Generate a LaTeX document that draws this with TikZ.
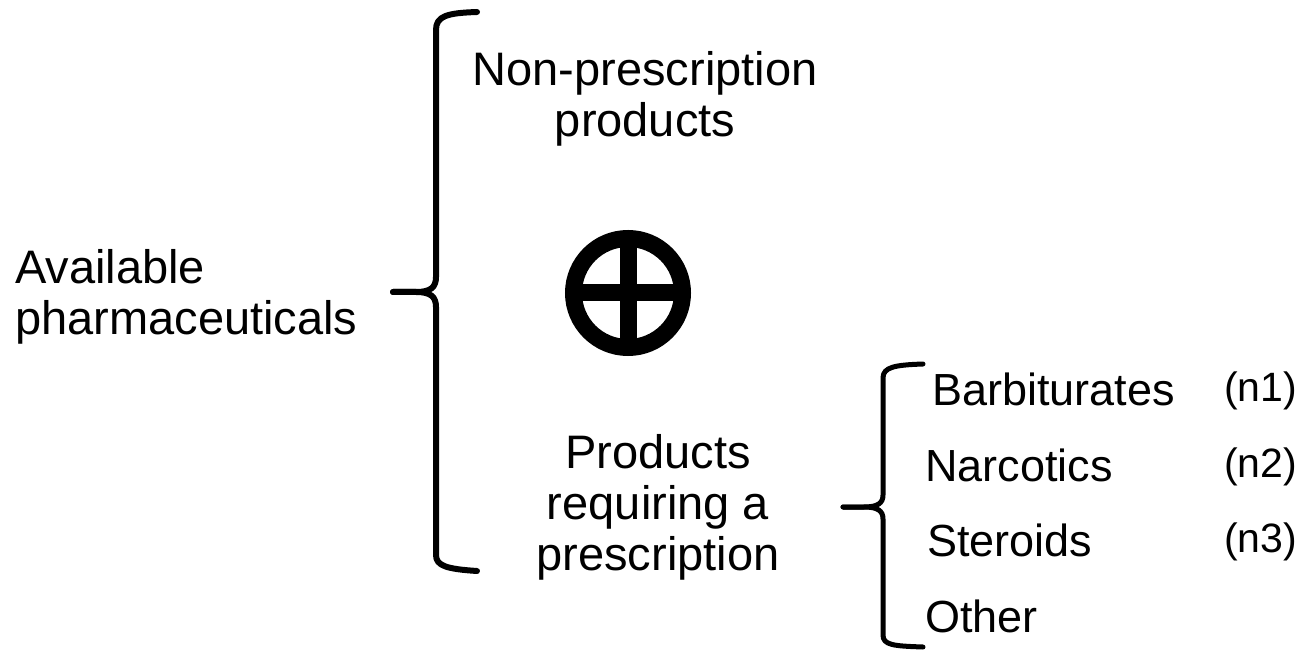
\documentclass[tikz,border=0pt]{standalone}
\usepackage{fontspec}
\setmainfont{Liberation Sans}
\begin{document}
\begin{tikzpicture}[x=1pt,y=-1pt,
  label/.style={inner sep=0pt, align=center, font=\fontsize{47}{51}\selectfont},
  item/.style={inner sep=0pt, anchor=base west, font=\fontsize{45}{48}\selectfont},
  tag/.style={inner sep=0pt, anchor=base west, font=\fontsize{41}{44}\selectfont},
  brace/.style={line width=6pt, line cap=round, line join=round},
  smallbrace/.style={line width=5pt, line cap=round, line join=round},
  symbolline/.style={line width=17pt}]
\useasboundingbox (0,0) rectangle (1299,652);

% main labels
\node[label, align=left, anchor=north west] (avail) at (15,249) {Available\\pharmaceuticals};
\node[label, anchor=north] (nonpres) at (645,51) {Non-prescription\\products};
\node[label, anchor=north] (presc) at (658,434) {Products\\requiring a\\prescription};

% large brace
\coordinate (bigtip) at (393,292);
\draw[brace] (477,12) .. controls (447,13) and (436,16) .. (436,30)
  -- (436,277) .. controls (436,287) and (431,292) .. (416,292) -- (bigtip);
\draw[brace] (bigtip) -- (416,292) .. controls (431,292) and (436,297) .. (436,307)
  -- (436,555) .. controls (436,566) and (447,569) .. (477,571);

% circled plus
\coordinate (plus) at (628,293);
\draw[symbolline] (plus) circle[radius=54.5];
\draw[symbolline] (plus) ++(0,-55) -- ++(0,110);
\draw[symbolline] (plus) ++(-55,0) -- ++(110,0);

% small brace
\coordinate (smalltip) at (843,507);
\draw[smallbrace] (923,364) .. controls (895,365) and (883,367) .. (883,378)
  -- (883,495) .. controls (883,503) and (878,507) .. (864,507) -- (smalltip);
\draw[smallbrace] (smalltip) -- (864,507) .. controls (878,507) and (883,511) .. (883,519)
  -- (883,635) .. controls (883,645) and (893,646) .. (923,647);

% sub-categories
\node[item] (barb) at (932,406) {Barbiturates};
\node[item] (narc) at (925,481) {Narcotics};
\node[item] (ster) at (927,556) {Steroids};
\node[item] (other) at (925,632) {Other};

\node[tag] (n1) at (1224,401) {(n1)};
\node[tag] (n2) at (1224,477) {(n2)};
\node[tag] (n3) at (1224,552) {(n3)};
\end{tikzpicture}
\end{document}
